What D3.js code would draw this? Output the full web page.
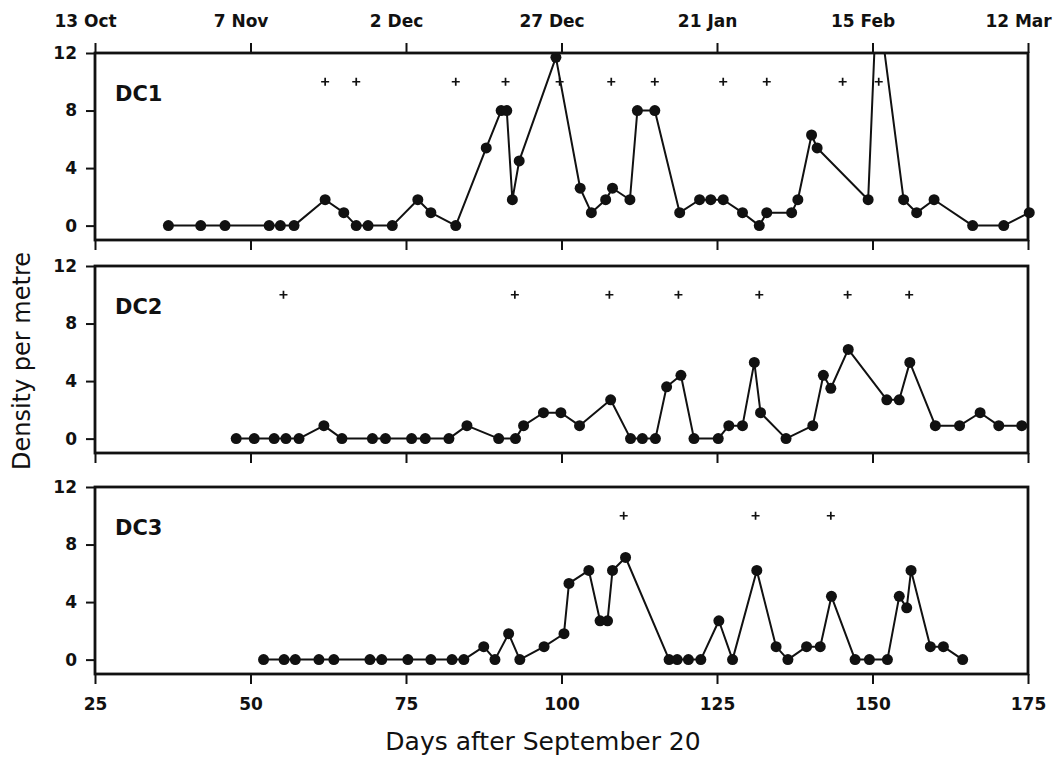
<!DOCTYPE html>
<html>
<head>
<meta charset="utf-8">
<script src="https://cdn.jsdelivr.net/npm/d3@7"></script>
<style>
  body { margin: 0; background: #fff; }
  text { font-family: "DejaVu Sans", sans-serif; fill: #111; }
</style>
</head>
<body>
<div id="chart"></div>
<script>
// sampling days (days after September 20) and density per metre
const dc1Days = [36.8, 42, 45.9, 53, 54.8, 57, 62, 65, 67, 68.9, 72.8, 76.9, 79, 83, 87.9, 90.3, 91.2, 92.1, 93.2, 99.1,
  103, 104.8, 107.1, 108.2, 111, 112.2, 115, 119, 122.2, 124, 126, 129.1, 131.8, 133, 137, 138, 140.2, 141.1,
  149.3, 150.7, 155, 157.1, 159.9, 166.1, 171.1, 175.2];
const dc1Density = [0, 0, 0, 0, 0, 0, 1.8, 0.9, 0, 0, 0, 1.8, 0.9, 0, 5.4, 8, 8, 1.8, 4.5, 11.7,
  2.6, 0.9, 1.8, 2.6, 1.8, 8, 8, 0.9, 1.8, 1.8, 1.8, 0.9, 0, 0.9, 0.9, 1.8, 6.3, 5.4,
  1.8, 16.2, 1.8, 0.9, 1.8, 0, 0, 0.9];
const dc1Plus = [62, 67, 83, 91, 99.7, 108, 115, 126, 133, 145.2, 151];

const dc2Days = [47.7, 50.6, 53.8, 55.7, 57.8, 61.8, 64.7, 69.6, 71.7, 75.9, 78.1, 81.9, 84.8, 89.9, 92.6, 93.9, 97.1, 99.9,
  102.9, 107.9, 111.1, 113, 115.1, 116.9, 119.2, 121.3, 125.2, 126.9, 129.1, 131, 132, 136.1, 140.4, 142.1, 143.3,
  146.1, 152.3, 154.3, 156, 160.1, 164, 167.3, 170.3, 174];
const dc2Density = [0, 0, 0, 0, 0, 0.9, 0, 0, 0, 0, 0, 0, 0.9, 0, 0, 0.9, 1.8, 1.8,
  0.9, 2.7, 0, 0, 0, 3.6, 4.4, 0, 0, 0.9, 0.9, 5.3, 1.8, 0, 0.9, 4.4, 3.5,
  6.2, 2.7, 2.7, 5.3, 0.9, 0.9, 1.8, 0.9, 0.9];
const dc2Plus = [55.3, 92.5, 107.7, 118.8, 131.8, 146, 155.9];

const dc3Days = [52.1, 55.4, 57.2, 61, 63.4, 69.2, 71.1, 75.3, 79, 82.4, 84.3, 87.5, 89.3, 91.5, 93.3, 97.2, 100.4, 101.2,
  104.4, 106.2, 107.4, 108.2, 110.3, 117.3, 118.6, 120.4, 122.4, 125.3, 127.5, 131.4, 134.5, 136.4, 139.4, 141.6,
  143.4, 147.2, 149.5, 152.4, 154.3, 155.5, 156.2, 159.3, 161.4, 164.5];
const dc3Density = [0, 0, 0, 0, 0, 0, 0, 0, 0, 0, 0, 0.9, 0, 1.8, 0, 0.9, 1.8, 5.3,
  6.2, 2.7, 2.7, 6.2, 7.1, 0, 0, 0, 0, 2.7, 0, 6.2, 0.9, 0, 0.9, 0.9,
  4.4, 0, 0, 0, 4.4, 3.6, 6.2, 0.9, 0.9, 0];
const dc3Plus = [110, 131.2, 143.3];

const xTicks = [25, 50, 75, 100, 125, 150, 175];
const yTicks = [0, 4, 8, 12];
const dateLabels = ['13 Oct', '7 Nov', '2 Dec', '27 Dec', '21 Jan', '15 Feb', '12 Mar'];
const dateDays = [23, 48, 73, 98, 123, 148, 173];
const panelLabels = ['DC1', 'DC2', 'DC3'];

const width = 1055, height = 763;
const svg = d3.select('#chart').append('svg')
  .attr('width', width)
  .attr('height', height);

const x = d3.scaleLinear().domain([25, 175]).range([95, 1028]);
const panelTops = [53, 266, 487];
const panelHeight = 187;

const panels = [
  { days: dc1Days, density: dc1Density, plus: dc1Plus },
  { days: dc2Days, density: dc2Density, plus: dc2Plus },
  { days: dc3Days, density: dc3Density, plus: dc3Plus }
];

const tickFont = sel => sel
  .attr('font-size', 17).attr('font-weight', 700)
  .attr('font-family', '"DejaVu Sans", sans-serif').attr('fill', '#111');

panels.forEach((p, i) => {
  const top = panelTops[i];
  const y = d3.scaleLinear().domain([-1, 12]).range([top + panelHeight, top]);
  const g = svg.append('g');

  g.append('clipPath').attr('id', 'clip' + i)
    .append('rect')
    .attr('x', x(25) - 8).attr('y', top)
    .attr('width', x(175) - x(25) + 16).attr('height', panelHeight);

  // left axis
  const yAxis = g.append('g')
    .attr('transform', `translate(${x(25)},0)`)
    .call(d3.axisLeft(y).tickValues(yTicks).tickSize(9).tickPadding(9));
  yAxis.select('.domain').remove();
  yAxis.selectAll('line').attr('stroke', '#111').attr('stroke-width', 2);
  yAxis.selectAll('text').call(tickFont);

  // bottom ticks
  const xAxis = g.append('g')
    .attr('transform', `translate(0,${top + panelHeight})`)
    .call(d3.axisBottom(x).tickValues(xTicks).tickSize(10).tickPadding(14));
  xAxis.select('.domain').remove();
  xAxis.selectAll('line').attr('stroke', '#111').attr('stroke-width', 2);
  if (i === 2) {
    xAxis.selectAll('text').call(tickFont);
  } else {
    xAxis.selectAll('text').remove();
  }

  // top ticks + dates on the first panel
  if (i === 0) {
    const topAxis = g.append('g')
      .attr('transform', `translate(0,${top})`)
      .call(d3.axisTop(x).tickValues(xTicks).tickSize(10).tickFormat(''));
    topAxis.select('.domain').remove();
    topAxis.selectAll('line').attr('stroke', '#111').attr('stroke-width', 2);

    svg.selectAll('.date')
      .data(dateLabels)
      .join('text')
      .attr('class', 'date')
      .attr('x', (d, j) => x(dateDays[j]) + 3)
      .attr('y', 27)
      .attr('text-anchor', 'middle')
      .call(tickFont)
      .text(d => d);
  }

  // frame
  g.append('rect')
    .attr('x', x(25)).attr('y', top)
    .attr('width', x(175) - x(25)).attr('height', panelHeight)
    .attr('fill', 'none').attr('stroke', '#111').attr('stroke-width', 2.8);

  g.append('text')
    .attr('x', 115).attr('y', top + 48)
    .attr('font-size', 21).attr('font-weight', 700)
    .text(panelLabels[i]);

  // '+' markers
  g.selectAll('.plus')
    .data(p.plus)
    .join('path')
    .attr('class', 'plus')
    .attr('transform', d => `translate(${x(d)},${y(10)})`)
    .attr('d', 'M-4,0H4M0,-4V4')
    .attr('stroke', '#111').attr('stroke-width', 1.7);

  const pts = p.days.map((d, j) => [d, p.density[j]]);
  const series = g.append('g').attr('clip-path', `url(#clip${i})`);

  series.append('path')
    .datum(pts)
    .attr('fill', 'none')
    .attr('stroke', '#111')
    .attr('stroke-width', 2)
    .attr('stroke-linejoin', 'round')
    .attr('d', d3.line().x(d => x(d[0])).y(d => y(d[1])));

  series.selectAll('circle')
    .data(pts)
    .join('circle')
    .attr('cx', d => x(d[0]))
    .attr('cy', d => y(d[1]))
    .attr('r', 5.5)
    .attr('fill', '#111');
});

svg.append('text')
  .attr('x', 543).attr('y', 750)
  .attr('text-anchor', 'middle')
  .attr('font-size', 25)
  .attr('font-weight', 500)
  .text('Days after September 20');

svg.append('text')
  .attr('transform', 'translate(30,361) rotate(-90)')
  .attr('text-anchor', 'middle')
  .attr('font-size', 24)
  .attr('font-weight', 500)
  .text('Density per metre');
</script>
</body>
</html>
